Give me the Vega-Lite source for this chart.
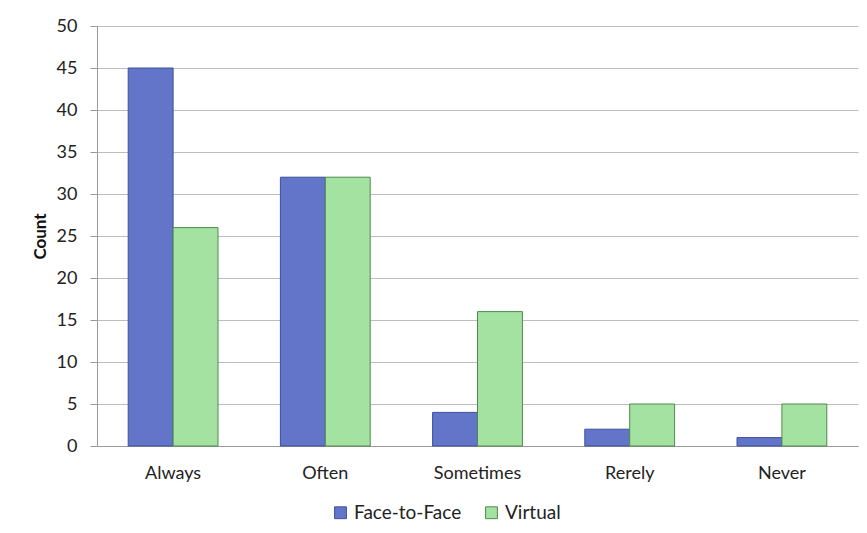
{
  "$schema": "https://vega.github.io/schema/vega-lite/v6.json",
  "width": 761,
  "height": 420,
  "autosize": {"type": "none"},
  "padding": {"left": 97, "top": 26, "right": 9, "bottom": 87},
  "background": "white",
  "data": {
    "values": [
      {"category": "Always", "mode": "Face-to-Face", "count": 45},
      {"category": "Always", "mode": "Virtual", "count": 26},
      {"category": "Often", "mode": "Face-to-Face", "count": 32},
      {"category": "Often", "mode": "Virtual", "count": 32},
      {"category": "Sometimes", "mode": "Face-to-Face", "count": 4},
      {"category": "Sometimes", "mode": "Virtual", "count": 16},
      {"category": "Rerely", "mode": "Face-to-Face", "count": 2},
      {"category": "Rerely", "mode": "Virtual", "count": 5},
      {"category": "Never", "mode": "Face-to-Face", "count": 1},
      {"category": "Never", "mode": "Virtual", "count": 5}
    ]
  },
  "mark": {"type": "bar", "strokeWidth": 1},
  "encoding": {
    "x": {
      "field": "category",
      "type": "nominal",
      "sort": ["Always", "Often", "Sometimes", "Rerely", "Never"],
      "scale": {"paddingInner": 0.41, "paddingOuter": 0.205},
      "axis": {
        "title": null,
        "labelAngle": 0,
        "ticks": false,
        "labelPadding": 18,
        "labelFontSize": 18,
        "labelFont": "Lato",
        "labelColor": "#222222",
        "domainColor": "#9a9a9a"
      }
    },
    "xOffset": {"field": "mode", "type": "nominal", "scale": {"paddingInner": 0}},
    "y": {
      "field": "count",
      "type": "quantitative",
      "scale": {"domain": [0, 50]},
      "axis": {
        "title": "Count",
        "titleFont": "Lato",
        "titleFontSize": 17,
        "titleFontWeight": "bold",
        "titleColor": "#111111",
        "titlePadding": 7,
        "values": [0, 5, 10, 15, 20, 25, 30, 35, 40, 45, 50],
        "labelFontSize": 18,
        "labelFont": "Lato",
        "labelColor": "#222222",
        "labelPadding": 13,
        "tickSize": 7,
        "tickColor": "#9a9a9a",
        "domainColor": "#9a9a9a",
        "gridColor": "#bdbdbd"
      }
    },
    "color": {
      "field": "mode",
      "type": "nominal",
      "scale": {"domain": ["Face-to-Face", "Virtual"], "range": ["#6275c8", "#a3e2a0"]},
      "legend": {
        "title": null,
        "orient": "none",
        "legendX": 234,
        "legendY": 477,
        "direction": "horizontal",
        "symbolType": "square",
        "symbolSize": 140,
        "symbolStrokeWidth": 1,
        "labelFont": "Lato",
        "labelFontSize": 19,
        "labelColor": "#222222",
        "columnPadding": 20,
        "labelOffset": 4
      }
    },
    "stroke": {
      "field": "mode",
      "type": "nominal",
      "scale": {"domain": ["Face-to-Face", "Virtual"], "range": ["#3d4f9e", "#4f8a4c"]},
      "legend": null
    }
  },
  "config": {"view": {"stroke": null}}
}
